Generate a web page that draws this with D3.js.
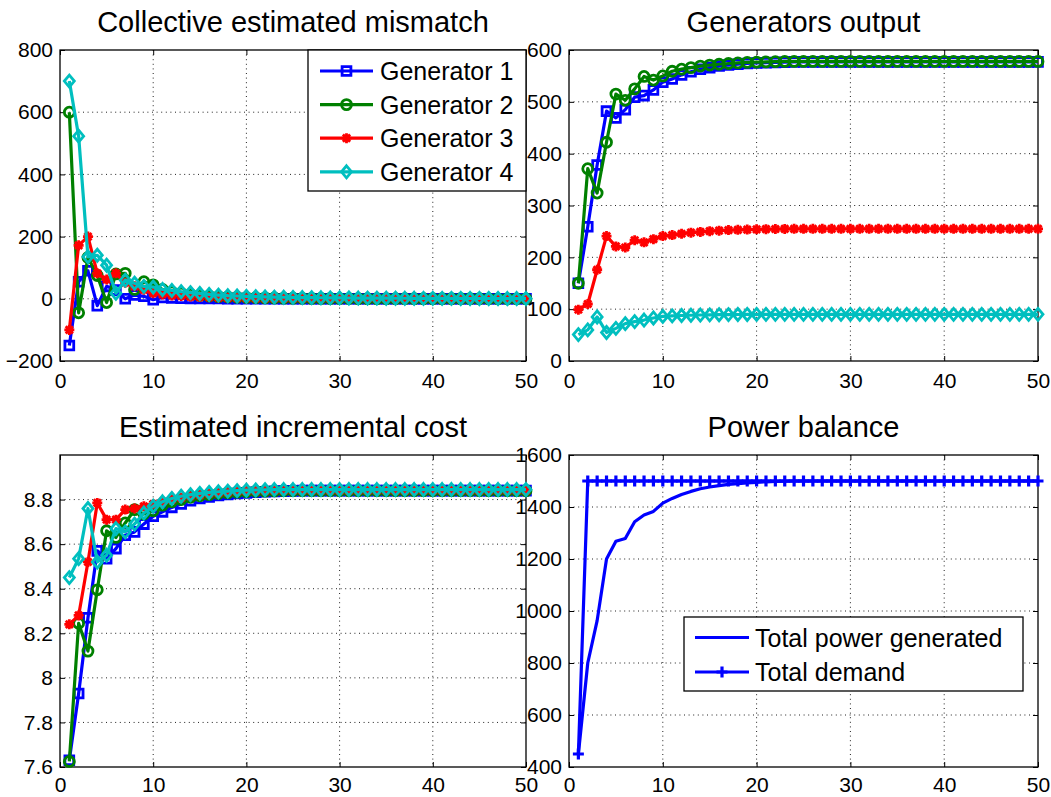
<!DOCTYPE html>
<html>
<head>
<meta charset="utf-8">
<script src="https://cdn.jsdelivr.net/npm/d3@7"></script>
<style>
  html, body { margin: 0; padding: 0; background: #fff; }
  svg { display: block; font-family: "Liberation Sans", Arial, Helvetica, sans-serif; }
  .grid line { stroke: #222; stroke-width: 1; stroke-dasharray: 1 3.6; }
  .tick line { stroke: #000; stroke-width: 1; }
  .domain { display: none; }
</style>
</head>
<body>
<svg id="fig" width="1051" height="797"></svg>
<script>
// Iteration index of the distributed dispatch algorithm
const iterations = d3.range(1, 51);

// Collective estimated mismatch per generator
const mismatchGen1 = [
  -150, 55, 90, -22, 40, 28, 0, 12, 8, -3,
  4, 3, 2, 1.5, 1, 1, 0.8, 0.6, 0.5, 0.4,
  0.3, 0.3, 0.2, 0.2, 0.2, 0.1, 0.1, 0.1, 0.1, 0.1,
  0, 0, 0, 0, 0, 0, 0, 0, 0, 0,
  0, 0, 0, 0, 0, 0, 0, 0, 0, 0];
const mismatchGen2 = [
  600, -45, 133, 75, -12, 80, 82, 30, 55, 45,
  30, 22, 18, 14, 11, 9, 7, 6, 5, 4,
  3.5, 3, 2.5, 2, 1.8, 1.5, 1.3, 1.1, 1, 0.8,
  0.7, 0.6, 0.5, 0.4, 0.4, 0.3, 0.3, 0.2, 0.2, 0.2,
  0.1, 0.1, 0.1, 0.1, 0.1, 0, 0, 0, 0, 0];
const mismatchGen3 = [
  -100, 172, 200, 82, 62, 82, 52, 40, 29, 18,
  14, 11, 9, 7, 6, 5, 4, 3, 2.5, 2,
  1.6, 1.3, 1, 0.8, 0.6, 0.5, 0.4, 0.3, 0.3, 0.2,
  0.2, 0.1, 0.1, 0.1, 0.1, 0, 0, 0, 0, 0,
  0, 0, 0, 0, 0, 0, 0, 0, 0, 0];
const mismatchGen4 = [
  700, 523, 135, 140, 108, 18, 60, 50, 40, 38,
  30, 27, 23, 20, 17, 14, 12, 10, 9, 8,
  7, 6, 5.5, 5, 4.5, 4, 3.6, 3.3, 3, 2.8,
  2.6, 2.4, 2.2, 2, 1.9, 1.8, 1.7, 1.6, 1.5, 1.4,
  1.3, 1.2, 1.1, 1, 1, 0.9, 0.9, 0.8, 0.8, 0.8];

// Generator outputs
const outputGen1 = [
  150, 259, 378, 482, 469, 485, 509, 512, 523, 538,
  544, 552, 558, 563, 566, 569, 571, 572.5, 574, 575,
  575.5, 576, 576.5, 577, 577, 577, 577, 577, 577, 577,
  577, 577, 577, 577, 577, 577, 577, 577, 577, 577,
  577, 577, 577, 577, 577, 577, 577, 577, 577, 577];
const outputGen2 = [
  150, 371, 324, 422, 515, 503, 525, 549, 542, 550,
  559, 563, 566, 569, 571, 572.5, 574, 575, 576, 576.5,
  577, 577.5, 578, 578, 578, 578, 578, 578, 578, 578,
  578, 578, 578, 578, 578, 578, 578, 578, 578, 578,
  578, 578, 578, 578, 578, 578, 578, 578, 578, 578];
const outputGen3 = [
  99, 110, 176, 241, 221, 219, 233, 229, 235, 241,
  243, 245.5, 247.5, 249, 250.5, 251.5, 252.5, 253, 253.5, 254,
  254.3, 254.6, 254.8, 255, 255, 255, 255, 255, 255, 255,
  255, 255, 255, 255, 255, 255, 255, 255, 255, 255,
  255, 255, 255, 255, 255, 255, 255, 255, 255, 255];
const outputGen4 = [
  51, 60, 85, 55, 63, 72, 76, 79, 83, 86,
  87, 87.8, 88.3, 88.7, 89, 89.3, 89.5, 89.7, 89.8, 89.9,
  90, 90, 90, 90, 90, 90, 90, 90, 90, 90,
  90, 90, 90, 90, 90, 90, 90, 90, 90, 90,
  90, 90, 90, 90, 90, 90, 90, 90, 90, 90];

// Estimated incremental cost per generator
const costGen1 = [
  7.63, 7.93, 8.27, 8.57, 8.535, 8.58, 8.64, 8.655, 8.69, 8.725,
  8.745, 8.765, 8.78, 8.795, 8.805, 8.812, 8.818, 8.823, 8.827, 8.83,
  8.833, 8.835, 8.837, 8.838, 8.839, 8.84, 8.84, 8.84, 8.84, 8.84,
  8.84, 8.84, 8.84, 8.84, 8.84, 8.84, 8.84, 8.84, 8.84, 8.84,
  8.84, 8.84, 8.84, 8.84, 8.84, 8.84, 8.84, 8.84, 8.84, 8.84];
const costGen2 = [
  7.625, 8.245, 8.12, 8.395, 8.66, 8.63, 8.695, 8.755, 8.735, 8.75,
  8.775, 8.79, 8.8, 8.81, 8.817, 8.822, 8.827, 8.83, 8.833, 8.835,
  8.837, 8.838, 8.839, 8.84, 8.84, 8.84, 8.84, 8.84, 8.84, 8.84,
  8.84, 8.84, 8.84, 8.84, 8.84, 8.84, 8.84, 8.84, 8.84, 8.84,
  8.84, 8.84, 8.84, 8.84, 8.84, 8.84, 8.84, 8.84, 8.84, 8.84];
const costGen3 = [
  8.24, 8.28, 8.52, 8.785, 8.71, 8.71, 8.755, 8.76, 8.77, 8.78,
  8.79, 8.8, 8.808, 8.815, 8.82, 8.825, 8.829, 8.832, 8.835, 8.837,
  8.838, 8.839, 8.84, 8.84, 8.84, 8.84, 8.84, 8.84, 8.84, 8.84,
  8.84, 8.84, 8.84, 8.84, 8.84, 8.84, 8.84, 8.84, 8.84, 8.84,
  8.84, 8.84, 8.84, 8.84, 8.84, 8.84, 8.84, 8.84, 8.84, 8.84];
const costGen4 = [
  8.45, 8.535, 8.76, 8.52, 8.55, 8.67, 8.655, 8.69, 8.74, 8.77,
  8.79, 8.805, 8.815, 8.822, 8.828, 8.832, 8.835, 8.838, 8.84, 8.842,
  8.843, 8.844, 8.845, 8.845, 8.845, 8.845, 8.845, 8.845, 8.845, 8.845,
  8.845, 8.845, 8.845, 8.845, 8.845, 8.845, 8.845, 8.845, 8.845, 8.845,
  8.845, 8.845, 8.845, 8.845, 8.845, 8.845, 8.845, 8.845, 8.845, 8.845];

// Power balance
const totalGenerated = [
  450, 800, 963, 1200, 1268, 1279, 1343, 1369, 1383, 1415,
  1433, 1448, 1460, 1470, 1477, 1482, 1487, 1490, 1493, 1495,
  1497, 1498, 1499, 1500, 1500, 1500, 1500, 1500, 1500, 1500,
  1500, 1500, 1500, 1500, 1500, 1500, 1500, 1500, 1500, 1500,
  1500, 1500, 1500, 1500, 1500, 1500, 1500, 1500, 1500, 1500];
const totalDemand = [
  450, 1500, 1500, 1500, 1500, 1500, 1500, 1500, 1500, 1500,
  1500, 1500, 1500, 1500, 1500, 1500, 1500, 1500, 1500, 1500,
  1500, 1500, 1500, 1500, 1500, 1500, 1500, 1500, 1500, 1500,
  1500, 1500, 1500, 1500, 1500, 1500, 1500, 1500, 1500, 1500,
  1500, 1500, 1500, 1500, 1500, 1500, 1500, 1500, 1500, 1500];

// Tick values
const xTicks = [0, 10, 20, 30, 40, 50];
const mismatchTicks = [-200, 0, 200, 400, 600, 800];
const outputTicks = [0, 100, 200, 300, 400, 500, 600];
const costTicks = [7.6, 7.8, 8, 8.2, 8.4, 8.6, 8.8];
const balanceTicks = [400, 600, 800, 1000, 1200, 1400, 1600];

// Labels
const panelTitles = ["Collective estimated mismatch", "Generators output",
                     "Estimated incremental cost", "Power balance"];
const generatorNames = ["Generator 1", "Generator 2", "Generator 3", "Generator 4"];
const balanceNames = ["Total power generated", "Total demand"];

// Styles
const genColors = ["#0000ff", "#008000", "#ff0000", "#00bfbf"];
const genMarkers = ["square", "circle", "asterisk", "diamond"];

const markerPaths = {
  square: "M-4.4,-4.4H4.4V4.4H-4.4Z",
  circle: "M5,0A5,5 0 1,1 -5,0A5,5 0 1,1 5,0Z",
  diamond: "M0,-6L5,0L0,6L-5,0Z",
  asterisk: "M-5,0H5M0,-5V5M-3.6,-3.6L3.6,3.6M-3.6,3.6L3.6,-3.6",
  plus: "M-5.5,0H5.5M0,-5.5V5.5"
};

const svg = d3.select("#fig");
const colSpans = [[60, 526], [569, 1038]];
const rowSpans = [[50, 361], [455, 767]];
const tickLen = 5;
const fmt = d => String(+d.toFixed(4)).replace("-", "\u2212");

function makePanel(col, row, yDomain, yTicks, title) {
  const [x0, x1] = colSpans[col];
  const [y0, y1] = rowSpans[row];
  const x = d3.scaleLinear().domain([0, 50]).range([x0, x1]);
  const y = d3.scaleLinear().domain(yDomain).range([y1, y0]);
  const g = svg.append("g");

  // dotted grid at the interior ticks
  const grid = g.append("g").attr("class", "grid");
  grid.selectAll("line.gx")
    .data(xTicks.filter(t => x(t) > x0 + 0.5 && x(t) < x1 - 0.5))
    .join("line").attr("class", "gx")
    .attr("x1", d => x(d)).attr("x2", d => x(d))
    .attr("y1", y0).attr("y2", y1);
  grid.selectAll("line.gy")
    .data(yTicks.filter(t => y(t) > y0 + 0.5 && y(t) < y1 - 0.5))
    .join("line").attr("class", "gy")
    .attr("x1", x0).attr("x2", x1)
    .attr("y1", d => y(d)).attr("y2", d => y(d));

  // axes with inward ticks on all four sides
  const bottom = g.append("g").attr("transform", `translate(0,${y1})`)
    .call(d3.axisBottom(x).tickValues(xTicks).tickSizeInner(-tickLen)
      .tickSizeOuter(0).tickPadding(row === 1 ? 10 : 12).tickFormat(fmt));
  const left = g.append("g").attr("transform", `translate(${x0},0)`)
    .call(d3.axisLeft(y).tickValues(yTicks).tickSizeInner(-tickLen)
      .tickSizeOuter(0).tickPadding(7).tickFormat(fmt));
  g.append("g").attr("transform", `translate(0,${y0})`)
    .call(d3.axisTop(x).tickValues(xTicks).tickSizeInner(-tickLen)
      .tickSizeOuter(0).tickFormat(""));
  g.append("g").attr("transform", `translate(${x1},0)`)
    .call(d3.axisRight(y).tickValues(yTicks).tickSizeInner(-tickLen)
      .tickSizeOuter(0).tickFormat(""));
  [bottom, left].forEach(a => a.selectAll("text")
    .attr("fill", "#000").style("font-size", "21px")
    .style("font-family", '"Liberation Sans", Arial, Helvetica, sans-serif'));

  g.append("rect")
    .attr("x", x0).attr("y", y0).attr("width", x1 - x0).attr("height", y1 - y0)
    .attr("fill", "none").attr("stroke", "#000").attr("stroke-width", 1.3);

  g.append("text")
    .attr("x", (x0 + x1) / 2).attr("y", y0 - 18)
    .attr("text-anchor", "middle").attr("fill", "#000")
    .style("font-size", "29px")
    .text(title);

  return { x, y, g, x0, x1, y0, y1 };
}

function drawSeries(p, values, color, marker) {
  const line = d3.line()
    .x((d, i) => p.x(iterations[i]))
    .y(d => p.y(d));
  p.g.append("path").datum(values)
    .attr("d", line).attr("fill", "none")
    .attr("stroke", color).attr("stroke-width", 3.2)
    .attr("stroke-linejoin", "round");
  if (marker) {
    const pts = values.map((v, i) => ({ k: iterations[i], v }));
    p.g.append("g").selectAll("path").data(pts).join("path")
      .attr("transform", d => `translate(${p.x(d.k)},${p.y(d.v)})`)
      .attr("d", markerPaths[marker])
      .attr("fill", "none").attr("stroke", color)
      .attr("stroke-width", marker === "plus" ? 3.2 : 2.8);
  }
}

function drawLegend(box, entries) {
  const g = svg.append("g");
  g.append("rect")
    .attr("x", box.x).attr("y", box.y).attr("width", box.w).attr("height", box.h)
    .attr("fill", "#fff").attr("stroke", "#000").attr("stroke-width", 1.3);
  entries.forEach((e, i) => {
    const cy = box.first + i * box.step;
    g.append("line")
      .attr("x1", box.lineX0).attr("x2", box.lineX1)
      .attr("y1", cy).attr("y2", cy)
      .attr("stroke", e.color).attr("stroke-width", 3.2);
    if (e.marker) {
      g.append("path")
        .attr("transform", `translate(${(box.lineX0 + box.lineX1) / 2},${cy})`)
        .attr("d", markerPaths[e.marker])
        .attr("fill", "none").attr("stroke", e.color)
        .attr("stroke-width", e.marker === "plus" ? 3.2 : 2.8);
    }
    g.append("text")
      .attr("x", box.textX).attr("y", cy + 9)
      .attr("fill", "#000").style("font-size", "25px")
      .text(e.name);
  });
}

// Panel 1: collective estimated mismatch
const p1 = makePanel(0, 0, [-200, 800], mismatchTicks, panelTitles[0]);
[mismatchGen1, mismatchGen2, mismatchGen3, mismatchGen4].forEach((s, i) =>
  drawSeries(p1, s, genColors[i], genMarkers[i]));
drawLegend({ x: 308, y: 50, w: 218, h: 141, first: 71, step: 33.6,
             lineX0: 320, lineX1: 373, textX: 380 },
  generatorNames.map((n, i) => ({ name: n, color: genColors[i], marker: genMarkers[i] })));

// Panel 2: generators output
const p2 = makePanel(1, 0, [0, 600], outputTicks, panelTitles[1]);
[outputGen1, outputGen2, outputGen3, outputGen4].forEach((s, i) =>
  drawSeries(p2, s, genColors[i], genMarkers[i]));

// Panel 3: estimated incremental cost
const p3 = makePanel(0, 1, [7.6, 9.0], costTicks, panelTitles[2]);
[costGen1, costGen2, costGen3, costGen4].forEach((s, i) =>
  drawSeries(p3, s, genColors[i], genMarkers[i]));

// Panel 4: power balance
const p4 = makePanel(1, 1, [400, 1600], balanceTicks, panelTitles[3]);
drawSeries(p4, totalGenerated, "#0000ff", null);
drawSeries(p4, totalDemand, "#0000ff", "plus");
drawLegend({ x: 684, y: 617, w: 339, h: 74, first: 637.5, step: 34.5,
             lineX0: 695, lineX1: 749, textX: 755 },
  [{ name: balanceNames[0], color: "#0000ff", marker: null },
   { name: balanceNames[1], color: "#0000ff", marker: "plus" }]);
</script>
</body>
</html>
